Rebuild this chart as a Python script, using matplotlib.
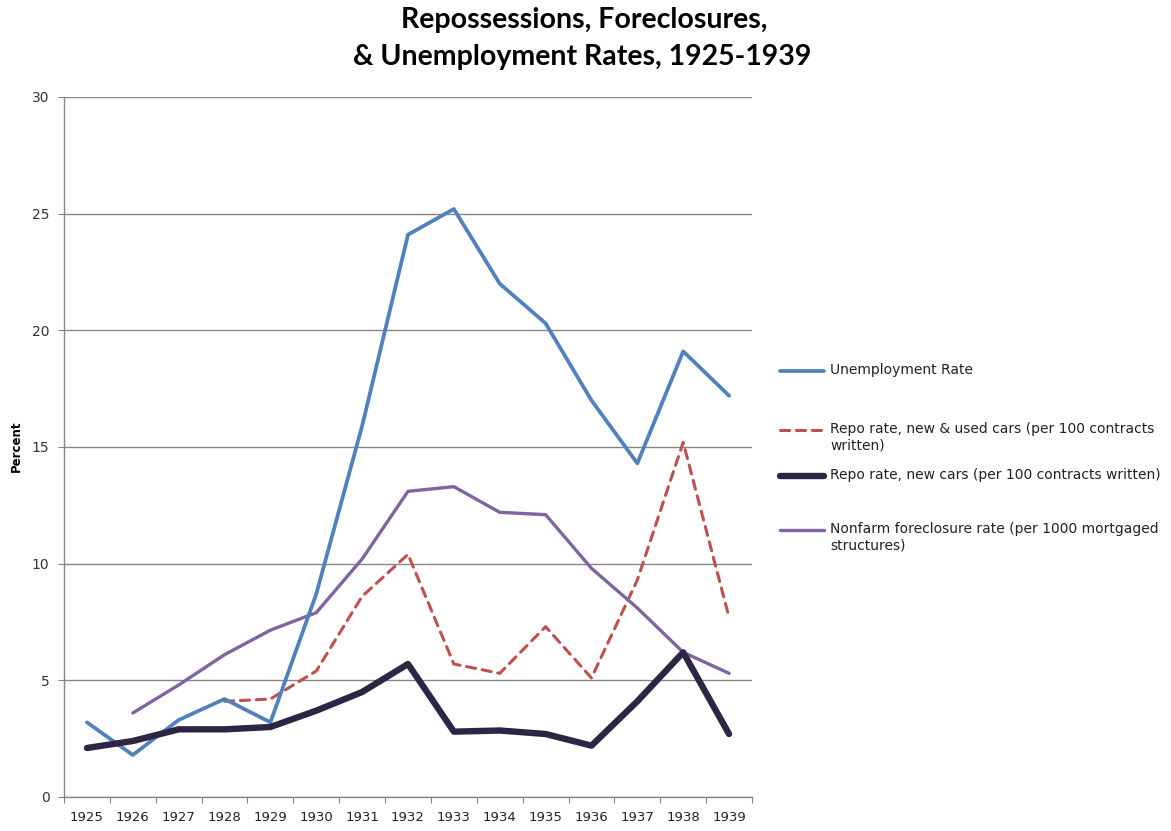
import matplotlib
matplotlib.use("Agg")
import matplotlib.pyplot as plt
from matplotlib.lines import Line2D

years = ["1925", "1926", "1927", "1928", "1929", "1930", "1931", "1932",
         "1933", "1934", "1935", "1936", "1937", "1938", "1939"]
unemployment = [3.2, 1.8, 3.3, 4.2, 3.2, 8.7, 15.9, 24.1, 25.2, 22.0, 20.3, 17.0, 14.3, 19.1, 17.2]
repo_new_used = [None, None, None, 4.1, 4.2, 5.4, 8.6, 10.4, 5.7, 5.3, 7.3, 5.1, 9.3, 15.2, 7.7]
repo_new = [2.1, 2.4, 2.9, 2.9, 3.0, 3.7, 4.5, 5.7, 2.8, 2.85, 2.7, 2.2, 4.1, 6.2, 2.7]
foreclosure = [None, 3.6, 4.8, 6.1, 7.15, 7.9, 10.2, 13.1, 13.3, 12.2, 12.1, 9.8, 8.1, 6.2, 5.3]
yticks = [0, 5, 10, 15, 20, 25, 30]

labels = ["Unemployment Rate",
          "Repo rate, new & used cars (per 100 contracts\nwritten)",
          "Repo rate, new cars (per 100 contracts written)",
          "Nonfarm foreclosure rate (per 1000 mortgaged\nstructures)"]
colors = ["#4F81BD", "#C0504D", "#2E2444", "#8064A2"]

W, H = 1171, 831
fig = plt.figure(figsize=(W / 100, H / 100), dpi=100)
ax = fig.add_axes([64 / W, 1 - 797 / H, (752 - 64) / W, (797 - 97) / H])

def seg(vals):
    xs = [i for i, v in enumerate(vals) if v is not None]
    ys = [v for v in vals if v is not None]
    return xs, ys

x, y = seg(unemployment)
ax.plot(x, y, color=colors[0], lw=2.7, solid_capstyle="round", solid_joinstyle="round", zorder=4)
x, y = seg(repo_new_used)
ax.plot(x, y, color=colors[1], lw=2.2, linestyle=(0, (3, 2.2)), dash_capstyle="round", zorder=3)
x, y = seg(repo_new)
ax.plot(x, y, color=colors[2], lw=4.6, solid_capstyle="round", solid_joinstyle="round", zorder=5)
x, y = seg(foreclosure)
ax.plot(x, y, color=colors[3], lw=2.4, solid_capstyle="round", solid_joinstyle="round", zorder=3)

ax.set_ylim(0, 30)
ax.set_xlim(-0.5, len(years) - 0.5)
ax.set_yticks(yticks)
ax.set_yticklabels([str(t) for t in yticks], fontsize=10, color="#333333")
ax.set_xticks([i - 0.5 for i in range(len(years) + 1)])
ax.set_xticklabels([])
ax.set_xticks(range(len(years)), minor=True)
ax.set_xticklabels(years, minor=True, fontsize=9.5, color="#222222")
ax.tick_params(axis="x", which="major", length=4.5, color="#868686", direction="out")
ax.tick_params(axis="x", which="minor", length=0, pad=10)
ax.tick_params(axis="y", length=4.5, color="#868686", direction="out", pad=6)
ax.grid(axis="y", color="#868686", lw=1)
ax.set_axisbelow(True)
for s in ["top", "right"]:
    ax.spines[s].set_visible(False)
for s in ["left", "bottom"]:
    ax.spines[s].set_color("#868686")
    ax.spines[s].set_linewidth(1)

fig.text(16 / W, 1 - 446 / H, "Percent", rotation=90, fontsize=8.5, fontweight="bold",
         ha="center", va="center")

fig.text(584 / W, 1 - 20 / H, "Repossessions, Foreclosures,", fontsize=20.5, fontweight="bold",
         family="Lato", ha="center", va="center")
fig.text(582 / W, 1 - 57 / H, "& Unemployment Rates, 1925-1939", fontsize=20.5, fontweight="bold",
         family="Lato", ha="center", va="center")

# legend drawn manually
leg_y = [371, 430, 476, 530]
styles = [dict(lw=2.7, ls="-"), dict(lw=2.2, ls=(0, (3, 2.2))), dict(lw=4.6, ls="-"), dict(lw=2.4, ls="-")]
for lab, c, yy, st in zip(labels, colors, leg_y, styles):
    yf = 1 - yy / H
    fig.add_artist(Line2D([780 / W, 824 / W], [yf, yf], color=c, solid_capstyle="round",
                          dash_capstyle="round", transform=fig.transFigure, **st))
    fig.text(830 / W, yf + 8 / H, lab, fontsize=10, ha="left", va="top", color="#222222",
             linespacing=1.25)

fig.savefig("out.png", dpi=100)
